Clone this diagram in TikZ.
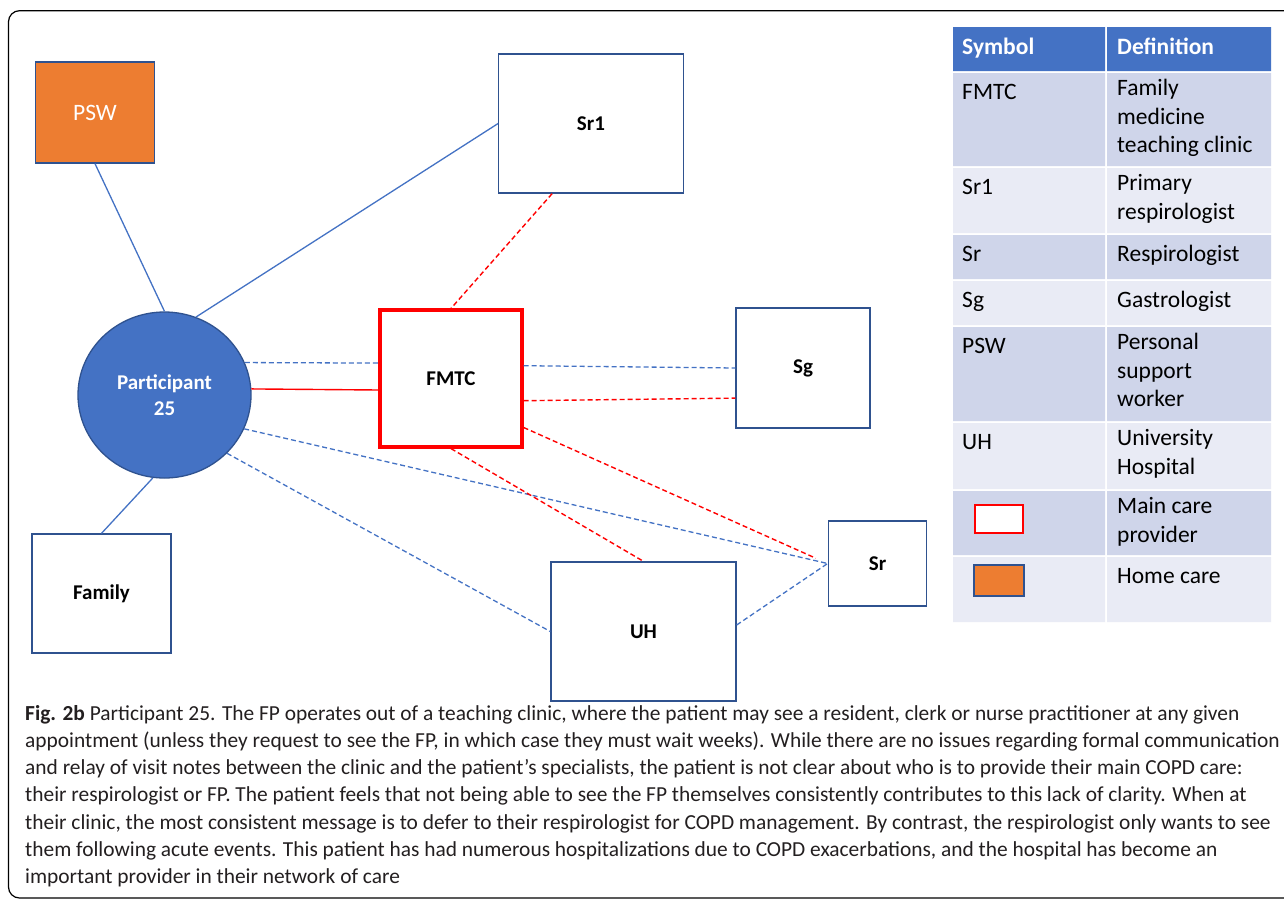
\documentclass[tikz,border=0pt]{standalone}
\usepackage{fontspec}
\setmainfont{Carlito}
\usetikzlibrary{shapes.geometric}

\definecolor{boxblue}{HTML}{2F528F}
\definecolor{lineblue}{HTML}{4472C4}
\definecolor{pswfill}{HTML}{ED7D31}
\definecolor{rowdark}{HTML}{CFD5EA}
\definecolor{rowlight}{HTML}{E9EBF5}
\definecolor{captext}{HTML}{231F20}

\begin{document}
\begin{tikzpicture}[x=1pt,y=-1pt,
    sized/.style 2 args={minimum width=#1pt,minimum height=#2pt},
    actor/.style={rectangle,draw=boxblue,line width=1.3pt,fill=white,inner sep=0pt,
      font=\fontsize{21}{25.6}\selectfont\bfseries},
    mainactor/.style={actor,draw=red,line width=3.2pt},
    link/.style={lineblue,line width=1.3pt},
    dlink/.style={link,dash pattern=on 5pt off 3pt},
    rlink/.style={red,line width=1.4pt},
    drlink/.style={rlink,dash pattern=on 5pt off 3pt},
    cell/.style={anchor=north west,inner sep=0pt,align=left,
      font=\fontsize{23.5}{28.7}\selectfont,execute at begin node=\strut},
    headcell/.style={anchor=base west,inner sep=0pt,text=white,
      font=\fontsize{23.5}{28.7}\selectfont\bfseries}]
  \clip (0,0) rectangle (1284,900);
  \fill[white] (0,0) rectangle (1284,900);
  % outer frame, open to the right
  \draw[rounded corners=11pt,line width=1.2pt] (8.5,10.7) rectangle (1320,898);

  % care network
  \node[actor,sized={119}{101},fill=pswfill,
    font=\fontsize{23.5}{28}\selectfont,text=white] (psw) at (95,112.5) {PSW};
  \node[actor,sized={184.5}{139}] (sr1) at (591,123.5) {Sr1};
  \node[ellipse,draw=boxblue,line width=1.3pt,fill=lineblue,inner sep=0pt,
    sized={173}{166},text=white,align=center,
    font=\fontsize{21}{25.6}\selectfont\bfseries] (pt) at (164.5,395) {Participant\\25};
  \node[mainactor,sized={142}{137}] (fmtc) at (451,378.5) {FMTC};
  \node[actor,sized={134}{120}] (sg) at (803,368) {Sg};
  \node[actor,sized={139}{119}] (fam) at (101.5,593.5) {Family};
  \node[actor,sized={185}{139}] (uh) at (643.5,631.5) {UH};
  \node[actor,sized={98.5}{85}] (sr) at (877.5,563.5) {Sr};

  % solid links
  \draw[link] (psw.south) -- (pt.north);
  \draw[link] (pt.68) -- (sr1.west);
  \draw[link] (pt.262) -- (fam.north);
  \draw[rlink] (pt.4) -- (fmtc.189);
  % dashed links
  \draw[dlink] (pt.22) -- (fmtc.168.5);
  \draw[dlink] (fmtc.10) -- (sg.west);
  \draw[dlink] (pt.-23) -- (sr.west);
  \draw[dlink] (pt.-43) -- (uh.west);
  \draw[dlink] (uh.4) -- (sr.west);
  \draw[drlink] (sr1.241) -- (fmtc.north);
  \draw[drlink] (fmtc.-17) -- (sg.204);
  \draw[drlink,shorten >=13pt] (fmtc.-34) -- (sr.west);
  \draw[drlink] (fmtc.south) -- (uh.north);

  % legend table
  \fill[lineblue] (953,27) rectangle (1105,71) (1107,27) rectangle (1271,71);
  \foreach \ya/\yb/\shade in {73/166/rowdark,168/233/rowlight,235/279/rowdark,
      281/325/rowlight,327/421/rowdark,423/489/rowlight,491/555/rowdark,557/622/rowlight}
    \fill[\shade] (953,\ya) rectangle (1105,\yb) (1107,\ya) rectangle (1271,\yb);
  \node[headcell] (hsym) at (962,54) {Symbol};
  \node[headcell] (hdef) at (1117,54) {Definition};
  \node[cell] (sFMTC) at (962,79) {FMTC};
  \node[cell] (dFMTC) at (1117,79) {Family\\medicine\\teaching clinic};
  \node[cell] (sSrOne) at (962,174) {Sr1};
  \node[cell] (dSrOne) at (1117,174) {Primary\\respirologist};
  \node[cell] (sSr) at (962,241) {Sr};
  \node[cell] (dSr) at (1117,241) {Respirologist};
  \node[cell] (sSg) at (962,287) {Sg};
  \node[cell] (dSg) at (1117,287) {Gastrologist};
  \node[cell] (sPSW) at (962,333) {PSW};
  \node[cell] (dPSW) at (1117,333) {Personal\\support\\worker};
  \node[cell] (sUH) at (962,429) {UH};
  \node[cell] (dUH) at (1117,429) {University\\Hospital};
  \node[rectangle,draw=red,line width=2.5pt,fill=white,sized={48}{28}] (kMain) at (999,519) {};
  \node[cell] (dMain) at (1117,497) {Main care\\provider};
  \node[rectangle,draw=boxblue,line width=1.2pt,fill=pswfill,sized={50}{31}] (kHome) at (999,580.5) {};
  \node[cell] (dHome) at (1117,563) {Home care};

  % caption
  \node[anchor=north west,inner sep=0pt,align=left,text=captext,
    font=\fontsize{21.4}{27.2}\selectfont,execute at begin node=\strut] (cap) at (25,705)
    {\textbf{Fig. 2b} Participant 25. The FP operates out of a teaching clinic, where the patient may see a resident, clerk or nurse practitioner at any given\\
     appointment (unless they request to see the FP, in which case they must wait weeks). While there are no issues regarding formal communication\\
     and relay of visit notes between the clinic and the patient’s specialists, the patient is not clear about who is to provide their main COPD care:\\
     their respirologist or FP. The patient feels that not being able to see the FP themselves consistently contributes to this lack of clarity. When at\\
     their clinic, the most consistent message is to defer to their respirologist for COPD management. By contrast, the respirologist only wants to see\\
     them following acute events. This patient has had numerous hospitalizations due to COPD exacerbations, and the hospital has become an\\
     important provider in their network of care};
\end{tikzpicture}
\end{document}
